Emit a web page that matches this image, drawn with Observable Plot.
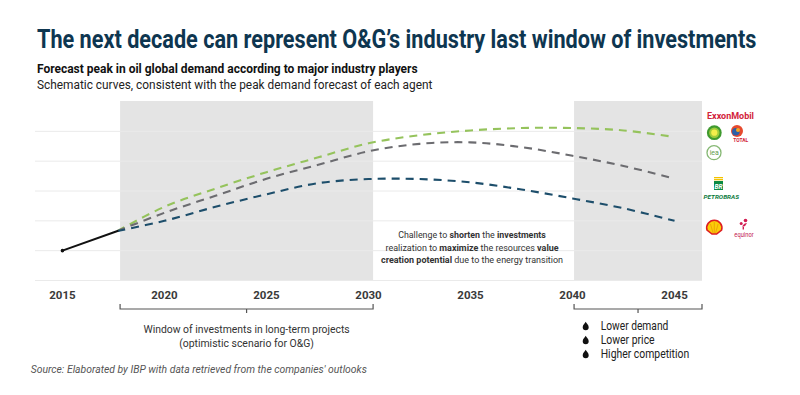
<!DOCTYPE html>
<html><head><meta charset="utf-8">
<script src="https://cdn.jsdelivr.net/npm/d3@7"></script>
<script src="https://cdn.jsdelivr.net/npm/@observablehq/plot@0.6"></script>
<style>
html,body{margin:0;padding:0;background:#fff;}
#chart{width:800px;height:395px;position:relative;overflow:hidden;}
</style></head><body><div id="chart"></div>
<script>
// ---------- data ----------
const historyYears = [2015, 2017.7];
const historyValues = [1.0, 1.66];
const forecastYears = [2017.7, 2020, 2022.5, 2025, 2027.5, 2030, 2032.5, 2035, 2037.5, 2040, 2042.5, 2045];
const seriesNames = ["ExxonMobil / BP / Total / IEA", "Petrobras", "Shell / Equinor"];
const seriesColors = ["#95c35c", "#6c6c70", "#1d4e6b"];
const greenValues = [1.66, 2.47, 3.08, 3.63, 4.12, 4.60, 4.87, 5.03, 5.11, 5.11, 5.03, 4.81];
const grayValues  = [1.66, 2.27, 2.84, 3.41, 3.87, 4.33, 4.58, 4.63, 4.47, 4.18, 3.84, 3.41];
const blueValues  = [1.66, 2.00, 2.47, 2.89, 3.26, 3.40, 3.40, 3.29, 3.05, 2.75, 2.42, 2.00];
const tickYears = [2015, 2020, 2025, 2030, 2035, 2040, 2045];
const gridValues = [0, 1, 2, 3, 4, 5];
const windowStarts = [2017.85, 2040.1];
const windowEnds = [2030.25, 2046.37];
const titleText = "The next decade can represent O&G\u2019s industry last window of investments";
const subtitleText = "Forecast peak in oil global demand according to major industry players";
const subtitle2Text = "Schematic curves, consistent with the peak demand forecast of each agent";
const windowLabel = ["Window of investments in long-term projects", "(optimistic scenario for O&G)"];
const riskLabels = ["Lower demand", "Lower price", "Higher competition"];
const sourceText = "Source: Elaborated by IBP with data retrieved from the companies' outlooks";
const challengeLines = [
  [["Challenge to ", false], ["shorten", true], [" the ", false], ["investments", true]],
  [["realization to ", false], ["maximize", true], [" the resources ", false], ["value", true]],
  [["creation potential", true], [" due to the energy transition", false]]
];

// ---------- tables ----------
const history = historyYears.map((year, i) => ({year, value: historyValues[i]}));
const seriesValues = [greenValues, grayValues, blueValues];
const forecast = seriesNames.flatMap((series, s) =>
  forecastYears.map((year, i) => ({series, year, value: seriesValues[s][i]})));
const windows = windowStarts.map((start, i) => ({start, end: windowEnds[i]}));

const plot = Plot.plot({
  width: 800, height: 395,
  marginLeft: 35, marginRight: 98, marginTop: 101, marginBottom: 115,
  x: {domain: [2013.68, 2046.37]},
  y: {domain: [0, 6], axis: null},
  color: {domain: seriesNames, range: seriesColors},
  style: {fontFamily: "Roboto, sans-serif", color: "#3a3a3a", background: "#fff"},
  marks: [
    Plot.rect(windows, {x1: "start", x2: "end", fill: "#e4e4e4"}),
    Plot.ruleY(gridValues, {stroke: "#eaeaea", strokeWidth: 1}),
    Plot.line(forecast, {x: "year", y: "value", z: "series", stroke: "series", strokeWidth: 2.1,
      strokeDasharray: "8,6", strokeLinecap: "butt", curve: "catmull-rom"}),
    Plot.line(history, {x: "year", y: "value", stroke: "#111", strokeWidth: 2}),
    Plot.dot(history.slice(0, 1), {x: "year", y: "value", r: 1.8, fill: "#111"}),
    Plot.axisX({ticks: tickYears, tickSize: 0, tickPadding: 10, tickFormat: d => String(d),
      fontWeight: "bold", fontSize: 11.5, label: null})
  ]
});
document.getElementById("chart").appendChild(plot);

const svg = d3.select(plot);
const xs = plot.scale("x");
const X = v => xs.apply(v);
const F = "Roboto, sans-serif";

function fit(sel, target, ax) {
  const w = sel.node().getBBox().width;
  const s = target / w;
  sel.attr("transform", `translate(${ax},0) scale(${s},1) translate(${-ax},0)`);
}
function addText(g, str, x, y, opts) {
  const t = g.append("text").attr("x", x).attr("y", y)
    .attr("font-family", F).attr("font-size", opts.size).attr("font-weight", opts.weight || 400)
    .attr("font-style", opts.style || "normal").attr("fill", opts.fill || "#222")
    .attr("text-anchor", opts.anchor || "start").text(str);
  if (opts.width) fit(t, opts.width, x);
  return t;
}

const deco = svg.append("g");
// titles
addText(deco, titleText, 37, 48.3, {size: 25, weight: 700, fill: "#0e3650", width: 720});
addText(deco, subtitleText, 37, 73, {size: 13, weight: 700, fill: "#111", width: 381});
addText(deco, subtitle2Text, 37, 89.5, {size: 13, weight: 400, fill: "#222", width: 396});

// challenge annotation
const cx = X(2035.1);
[238.5, 250.8, 262.8].forEach((y, i) => {
  const t = deco.append("text").attr("x", cx).attr("y", y).attr("text-anchor", "middle")
    .attr("font-family", F).attr("font-size", 9.6).attr("fill", "#333");
  challengeLines[i].forEach(([s, b]) => t.append("tspan").attr("font-weight", b ? 700 : 400).text(s));
  fit(t, [148, 173.4, 182][i], cx);
});

// brackets
windows.forEach(w => {
  const x1 = X(w.start), x2 = Math.min(X(w.end), 703), xm = (x1 + x2) / 2;
  deco.append("path").attr("d", `M${x1},304V309H${x2}V304M${xm},309V313`)
    .attr("fill", "none").attr("stroke", "#555").attr("stroke-width", 1.2);
});
const wm = (X(windowStarts[0]) + X(windowEnds[0])) / 2;
addText(deco, windowLabel[0], wm, 333.3, {size: 11.5, anchor: "middle", fill: "#333", width: 206.6});
addText(deco, windowLabel[1], wm, 347.3, {size: 11.5, anchor: "middle", fill: "#333", width: 135});

// risk bullets
riskLabels.forEach((s, i) => {
  const y = 326 + i * 14;
  const dx = 585.7;
  deco.append("path").attr("d", `M${dx},${y-4.2}C${dx+0.8},${y-2.5} ${dx+3},${y-1} ${dx+3},${y+1.2}A3,3 0 0 1 ${dx-3},${y+1.2}C${dx-3},${y-1} ${dx-0.8},${y-2.5} ${dx},${y-4.2}Z`)
    .attr("fill", "#111");
  addText(deco, s, 600.7, y + 4.2, {size: 12, fill: "#222", width: [67.7, 54, 88.6][i]});
});

// source
addText(deco, sourceText, 30.7, 373.5, {size: 11, style: "italic", fill: "#555", width: 337});

// logos
const lg = svg.append("g");
addText(lg, "ExxonMobil", 707, 119, {size: 9, weight: 700, fill: "#d2223b", width: 47});
// BP
lg.append("circle").attr("cx", 714.3).attr("cy", 132.7).attr("r", 7.4).attr("fill", "#3f9a2f");
lg.append("circle").attr("cx", 714.3).attr("cy", 132.7).attr("r", 5.2).attr("fill", "#9fcb3a");
lg.append("circle").attr("cx", 714.3).attr("cy", 132.7).attr("r", 3.1).attr("fill", "#f4ee4b");
// Total
lg.append("circle").attr("cx", 737).attr("cy", 131).attr("r", 6).attr("fill", "#e64a2e");
lg.append("circle").attr("cx", 735.8).attr("cy", 131.8).attr("r", 3.8).attr("fill", "#2c5fa8");
lg.append("circle").attr("cx", 738).attr("cy", 130).attr("r", 2).attr("fill", "#f6a623");
addText(lg, "TOTAL", 740.7, 142.5, {size: 5.5, weight: 700, fill: "#d2223b", anchor: "middle", width: 15});
// IEA
lg.append("circle").attr("cx", 714).attr("cy", 152.7).attr("r", 7).attr("fill", "#fff")
  .attr("stroke", "#86b874").attr("stroke-width", 1.3);
addText(lg, "iea", 714.3, 155.3, {size: 7, fill: "#5f9d4e", anchor: "middle"});
// Petrobras
lg.append("rect").attr("x", 714).attr("y", 177).attr("width", 9).attr("height", 1.3).attr("fill", "#f3c300");
lg.append("rect").attr("x", 714).attr("y", 179).attr("width", 9).attr("height", 1.3).attr("fill", "#f3c300");
lg.append("rect").attr("x", 714).attr("y", 181).attr("width", 9).attr("height", 9).attr("fill", "#0a8a43");
addText(lg, "BR", 718.5, 188.6, {size: 6.5, weight: 700, style: "italic", fill: "#fff", anchor: "middle"});
addText(lg, "PETROBRAS", 721.3, 199, {size: 6, weight: 700, style: "italic", fill: "#0a7a3c", anchor: "middle", width: 36});
// Shell
lg.append("path").attr("d", "M707,230 A7.6,7.6 0 1 1 721.6,230 L716.6,234 L712,234 Z")
  .attr("fill", "#fbce07").attr("stroke", "#dd1d21").attr("stroke-width", 1.6);
lg.append("path").attr("d", "M714.3,222V233M710.5,224L713,233M718.1,224L715.6,233")
  .attr("stroke", "#e58a0a").attr("stroke-width", 0.6);
// Equinor
lg.append("circle").attr("cx", 745.5).attr("cy", 220.5).attr("r", 1.8).attr("fill", "#d21d52");
lg.append("circle").attr("cx", 741.2).attr("cy", 223.5).attr("r", 1.5).attr("fill", "#d21d52");
lg.append("path").attr("d", "M742.5,226 Q744,223 747,223 Q746,226 742.5,227Z").attr("fill", "#d21d52");
lg.append("rect").attr("x", 742.6).attr("y", 227).attr("width", 1.4).attr("height", 2.5).attr("fill", "#d21d52");
addText(lg, "equinor", 744, 237, {size: 6.5, fill: "#c2174f", anchor: "middle", width: 20});
</script></body></html>
